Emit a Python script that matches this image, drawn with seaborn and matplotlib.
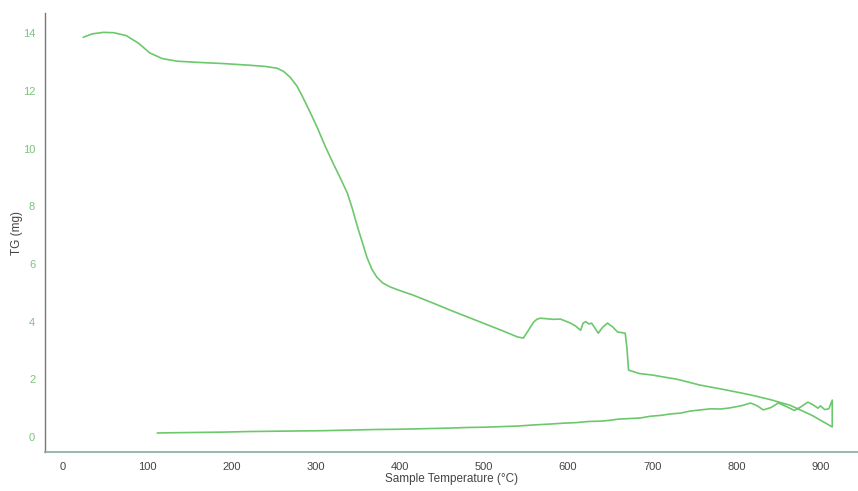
import matplotlib
matplotlib.use("Agg")
import matplotlib.pyplot as plt
import seaborn as sns
import pandas as pd

# Heating segment then cooling segment (one continuous trace)
temperature_c = [24, 35, 48, 60, 75, 90, 103, 118, 136, 160, 190, 222, 240, 254, 262, 270,
                 278, 285, 293, 302, 311, 321, 330, 338, 344, 350, 356, 361, 367, 373, 380,
                 389, 400, 416, 440, 460, 480, 499, 520, 540, 547, 553, 559, 563, 567, 575,
                 583, 591, 597, 603, 609, 615, 618, 621, 625, 628, 632, 636, 641, 647, 653,
                 659, 664, 668, 670, 672, 685, 700, 730, 757, 790, 817, 840, 864, 890, 914,
                 914, 910, 905, 900, 897, 891, 885, 877, 869, 860, 850, 841, 832, 825, 817,
                 808, 800, 790, 781, 770, 757, 745, 734, 722, 710, 698, 686, 673, 660, 650,
                 639, 625, 610, 595, 579, 560, 540, 520, 500, 480, 460, 430, 400, 370, 340,
                 310, 282, 250, 220, 190, 160, 135, 112]
tg_mg = [13.86, 13.98, 14.03, 14.02, 13.92, 13.65, 13.32, 13.12, 13.03, 12.99, 12.95,
         12.89, 12.85, 12.79, 12.68, 12.47, 12.17, 11.78, 11.3, 10.74, 10.12, 9.49, 8.95,
         8.45, 7.9, 7.28, 6.72, 6.24, 5.82, 5.54, 5.34, 5.2, 5.08, 4.92, 4.64, 4.4, 4.17,
         3.95, 3.71, 3.47, 3.43, 3.7, 3.98, 4.08, 4.12, 4.1, 4.08, 4.09, 4.02, 3.95, 3.85,
         3.7, 3.95, 4.0, 3.92, 3.95, 3.78, 3.6, 3.8, 3.95, 3.82, 3.64, 3.62, 3.6, 3.1, 2.32,
         2.2, 2.15, 2.0, 1.8, 1.62, 1.46, 1.3, 1.1, 0.75, 0.35,
         1.28, 0.98, 0.95, 1.08, 1.0, 1.12, 1.21, 1.05, 0.92, 1.05, 1.18, 1.02, 0.94, 1.08,
         1.18, 1.1, 1.05, 1.0, 0.97, 0.98, 0.94, 0.9, 0.83, 0.8, 0.75, 0.72, 0.66, 0.64,
         0.62, 0.58, 0.55, 0.54, 0.5, 0.48, 0.45, 0.42, 0.38, 0.36, 0.34, 0.33, 0.31, 0.29,
         0.27, 0.26, 0.24, 0.22, 0.21, 0.2, 0.19, 0.17, 0.16, 0.15, 0.14]

x_ticks = [0, 100, 200, 300, 400, 500, 600, 700, 800, 900]
y_ticks = [0, 2, 4, 6, 8, 10, 12, 14]

df = pd.DataFrame({"T": temperature_c, "TG": tg_mg})

sns.set_style("white")
plt.rcParams["font.family"] = ["Liberation Sans Narrow", "Liberation Sans", "DejaVu Sans"]

fig = plt.figure(figsize=(8.58, 4.91), dpi=100)
ax = fig.add_axes([0.0524, 0.0794, 0.948, 0.894])

sns.lineplot(data=df, x="T", y="TG", sort=False, estimator=None, ax=ax,
             color="#6cc86c", linewidth=1.2)

ax.set_xlim(-21.4, 945)
ax.set_ylim(-0.52, 14.7)
ax.set_xticks(x_ticks)
ax.set_yticks(y_ticks)
ax.set_xticklabels([str(v) for v in x_ticks], color="#444444", fontsize=8)
ax.set_yticklabels([str(v) for v in y_ticks], color="#7cc47c", fontsize=8)
ax.tick_params(axis="x", direction="in", length=3, color="#999999", pad=7)
ax.tick_params(axis="y", direction="out", length=3, color="#777777", pad=4)

ax.set_xlabel("Sample Temperature (\u00b0C)", fontsize=8.5, color="#444444", labelpad=1)
ax.set_ylabel("TG (mg)", fontsize=8.5, color="#444444")
ax.yaxis.set_label_coords(-0.027, 0.5)

for side in ["top", "right"]:
    ax.spines[side].set_visible(False)
ax.spines["left"].set_color("#777777")
ax.spines["bottom"].set_color("#88aaa0")
ax.spines["left"].set_linewidth(1.0)
ax.spines["bottom"].set_linewidth(1.2)

fig.savefig("out.png", dpi=100)
